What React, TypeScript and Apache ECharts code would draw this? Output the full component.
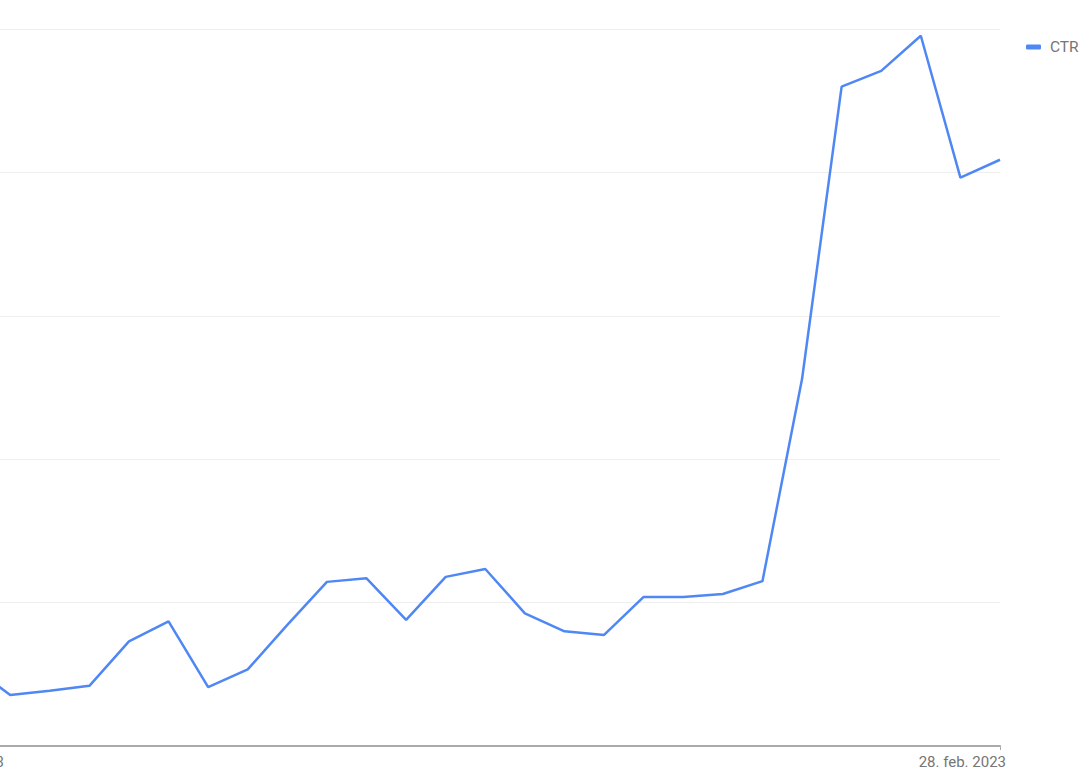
import React, { useEffect, useRef } from "react";
import * as echarts from "echarts";

const dates: string[] = Array.from({ length: 28 }, (_, i) => `${i + 1}. feb. 2023`);
const ctr: number[] = [
  1.34, 1.13, 0.71, 0.77, 0.84, 1.46, 1.74, 0.82, 1.07, 1.69,
  2.29, 2.34, 1.76, 2.36, 2.47, 1.85, 1.6, 1.55, 2.08, 2.08,
  2.12, 2.3, 5.12, 9.2, 9.42, 9.91, 7.93, 8.18,
];
const yMin = 0;
const yMax = 10;
const yStep = 2;

export default function App() {
  const ref = useRef<HTMLDivElement>(null);
  useEffect(() => {
    if (!ref.current) return;
    const chart = echarts.init(ref.current, undefined, { renderer: "svg" });
    const last = dates.length - 1;
    const showEnds = (i: number) => i === 0 || i === last;
    chart.setOption({
      animation: false,
      textStyle: { fontFamily: "Roboto" },
      grid: {
        left: 81,
        right: 90,
        top: 29.3,
        bottom: 32,
        containLabel: false,
        outerBoundsMode: "none",
      },
      legend: {
        data: ["CTR"],
        left: 1176,
        top: 39,
        padding: 0,
        icon: "roundRect",
        itemWidth: 15,
        itemHeight: 5,
        textStyle: { color: "#757575", fontSize: 15.5, padding: [0, 0, 0, 4] },
      },
      xAxis: {
        type: "category",
        data: dates,
        boundaryGap: false,
        axisLine: { lineStyle: { color: "#aaaaaa", width: 2 } },
        axisTick: { show: true, interval: showEnds, length: 4, lineStyle: { color: "#aaaaaa" } },
        axisLabel: {
          interval: showEnds,
          color: "#757575",
          fontSize: 15,
          margin: 8,
          alignMinLabel: "left",
          alignMaxLabel: "right",
          padding: [0, -6, 0, -6],
        },
        splitLine: { show: false },
      },
      yAxis: {
        type: "value",
        min: yMin,
        max: yMax,
        interval: yStep,
        axisLine: { show: false },
        axisTick: { show: false },
        axisLabel: { color: "#757575", fontSize: 15, formatter: "{value} %" },
        splitLine: { lineStyle: { color: "#eeeeee", width: 1 } },
      },
      series: [
        {
          name: "CTR",
          type: "line",
          data: ctr,
          showSymbol: false,
          symbol: "none",
          lineStyle: { color: "#4f87f5", width: 2.5 },
          itemStyle: { color: "#4f87f5" },
        },
      ],
    });
    return () => chart.dispose();
  }, []);
  return (
    <div
      ref={ref}
      style={{ position: "absolute", left: -150, top: 0, width: 1240, height: 778 }}
    />
  );
}
